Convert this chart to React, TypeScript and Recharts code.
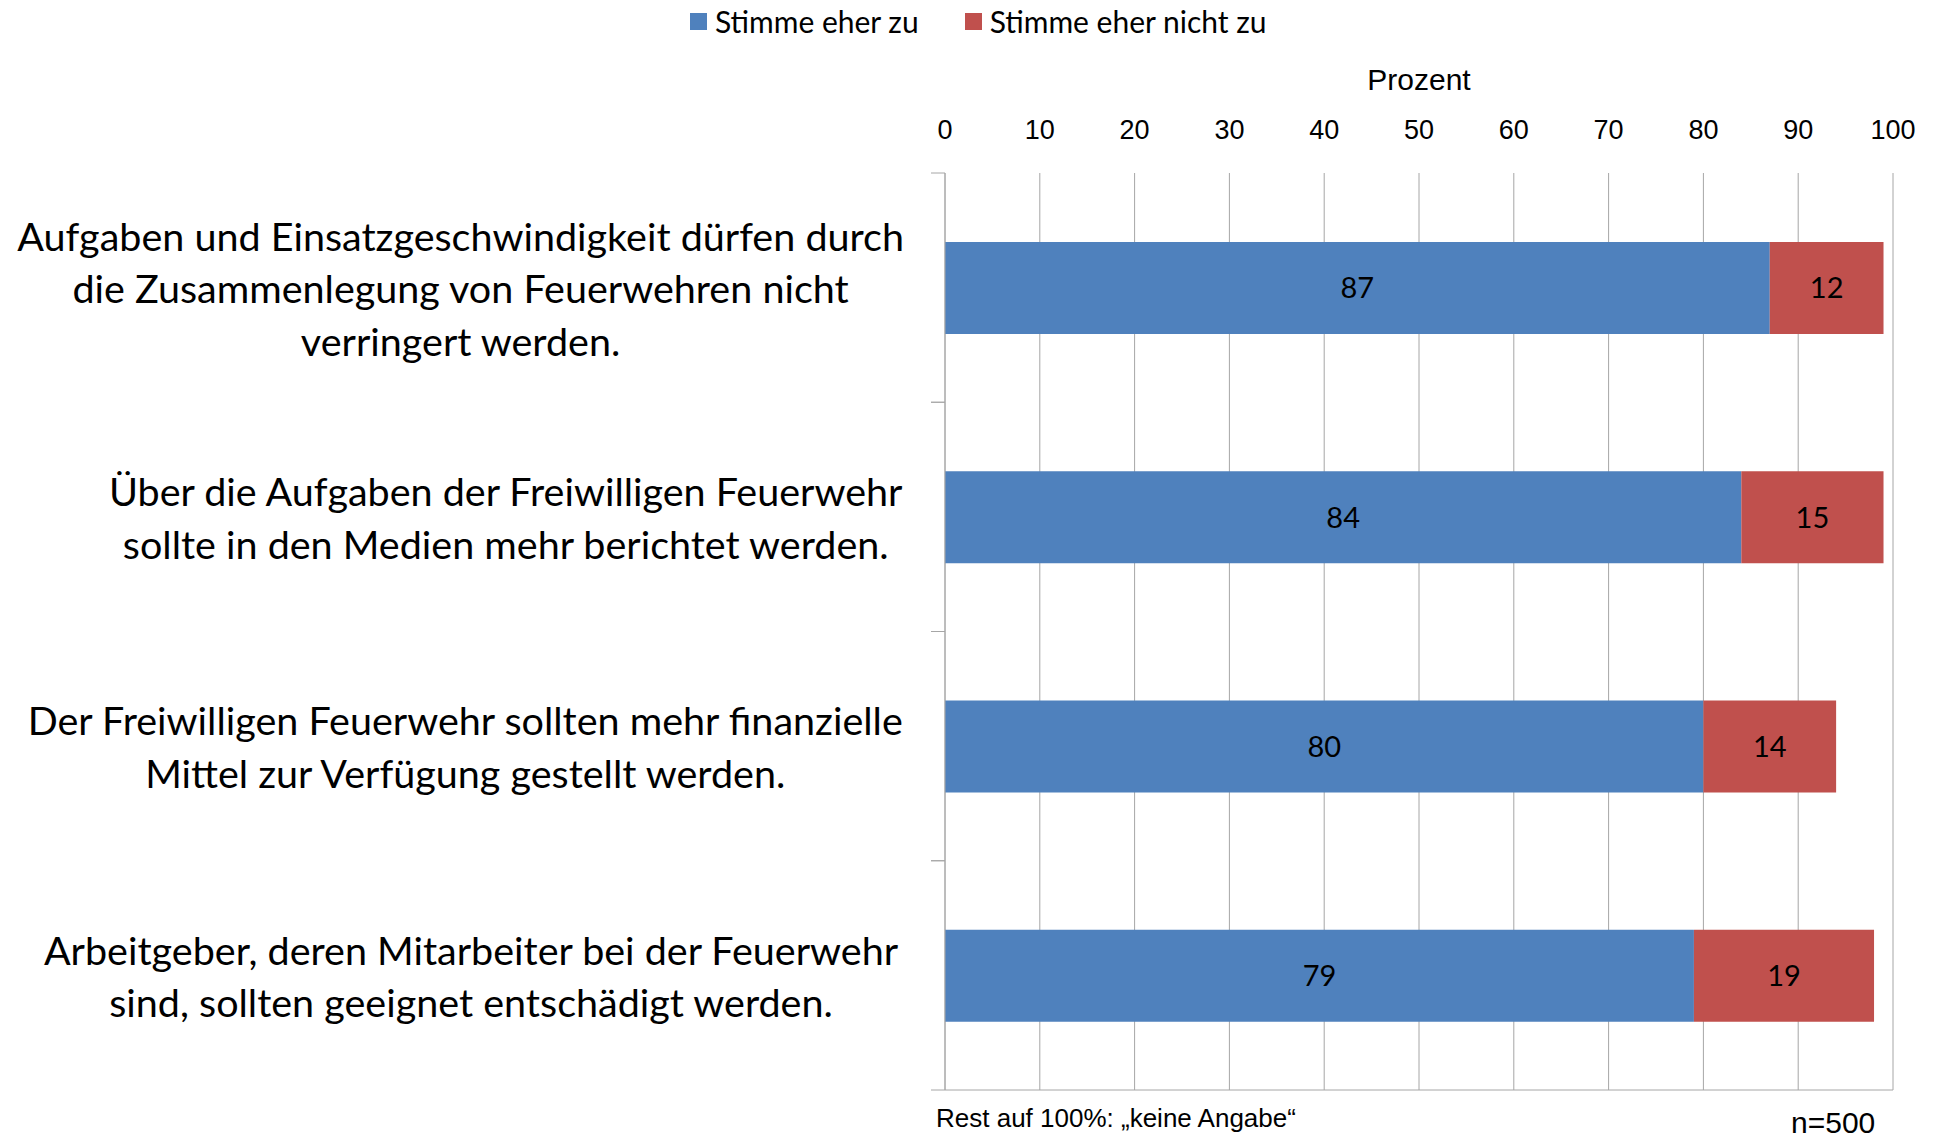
import React from 'react'
import {
  BarChart,
  Bar,
  XAxis,
  YAxis,
  CartesianGrid,
  Legend,
  LabelList,
} from 'recharts'

// statements, line breaks as in the original slide
const categories = [
  'Aufgaben und Einsatzgeschwindigkeit dürfen durch\ndie Zusammenlegung von Feuerwehren nicht\nverringert werden.',
  'Über die Aufgaben der Freiwilligen Feuerwehr\nsollte in den Medien mehr berichtet werden.',
  'Der Freiwilligen Feuerwehr sollten mehr finanzielle\nMittel zur Verfügung gestellt werden.',
  'Arbeitgeber, deren Mitarbeiter bei der Feuerwehr \nsind, sollten geeignet entschädigt werden.',
]
const stimmeZu = [87, 84, 80, 79]
const stimmeNichtZu = [12, 15, 14, 19]
const xTicks = [0, 10, 20, 30, 40, 50, 60, 70, 80, 90, 100]

const seriesNames = ['Stimme eher zu', 'Stimme eher nicht zu']
const BLUE = '#4F81BD'
const RED = '#C0504D'
const GRID = '#A6A6A6'

const W = 1941
const H = 1138
const MARGIN = { top: 63, right: 48, bottom: 40, left: 0 }
const TOP_AXIS_H = 110
const BOTTOM_AXIS_H = 8
const PLOT_H = H - MARGIN.top - MARGIN.bottom - TOP_AXIS_H - BOTTOM_AXIS_H
const BAND = PLOT_H / categories.length
const LABEL_GAP = 41
const LABEL_FONT = 39.5
const LABEL_LH = 52.6
const LABEL_FAMILY = 'Lato'

const data = categories.map((name, i) => ({
  name,
  zu: stimmeZu[i],
  nicht: stimmeNichtZu[i],
}))

let canvas: HTMLCanvasElement | null = null
function textWidth(s: string, font: string) {
  if (!canvas) canvas = document.createElement('canvas')
  const ctx = canvas.getContext('2d')!
  ctx.font = font
  return ctx.measureText(s).width
}

function CategoryTick(props: any) {
  const { x, y, payload } = props
  const lines: string[] = String(payload.value).split('\n')
  const font = `${LABEL_FONT}px ${LABEL_FAMILY}`
  const blockW = Math.max(...lines.map((l) => textWidth(l, font)))
  const cx = x - blockW / 2
  const first = y - ((lines.length - 1) * LABEL_LH) / 2
  const axisX = x + LABEL_GAP
  return (
    <g>
      {lines.map((l, i) => (
        <text
          key={i}
          x={cx}
          y={first + i * LABEL_LH}
          textAnchor="middle"
          dominantBaseline="central"
          fontSize={LABEL_FONT}
          fontFamily={LABEL_FAMILY}
          fill="#000"
        >
          {l}
        </text>
      ))}
      <line x1={axisX - 14} x2={axisX} y1={y - BAND / 2} y2={y - BAND / 2} stroke={GRID} />
      <line x1={axisX - 14} x2={axisX} y1={y + BAND / 2} y2={y + BAND / 2} stroke={GRID} />
    </g>
  )
}

function LegendContent(props: any) {
  const items = [...(props.payload || [])].sort(
    (a: any, b: any) => seriesNames.indexOf(a.value) - seriesNames.indexOf(b.value)
  )
  return (
    <div style={{ display: 'flex', gap: 46, marginLeft: 690, fontFamily: 'Lato', fontSize: 30, lineHeight: '36px' }}>
      {items.map((it: any) => (
        <div key={it.value} style={{ display: 'flex', alignItems: 'center' }}>
          <span style={{ width: 17, height: 17, background: it.color, marginRight: 8, display: 'inline-block' }} />
          <span style={{ color: '#000' }}>{it.value}</span>
        </div>
      ))}
    </div>
  )
}

export default function App() {
  return (
    <div style={{ position: 'absolute', left: 0, top: 0, width: W, height: H, background: '#fff' }}>
      <BarChart width={W} height={H} data={data} layout="vertical" margin={MARGIN}>
        <CartesianGrid horizontal={false} stroke={GRID} xAxisId="top" yAxisId="cat" />
        <XAxis
          xAxisId="top"
          orientation="top"
          type="number"
          domain={[0, 100]}
          ticks={xTicks}
          height={TOP_AXIS_H}
          axisLine={false}
          tickLine={false}
          tickSize={0}
          tickMargin={34}
          tick={{ fontSize: 27, fill: '#000', fontFamily: 'Liberation Sans' }}
          label={{ value: 'Prozent', position: 'insideTop', offset: 6, fontSize: 30, fill: '#000', fontFamily: 'Liberation Sans' }}
        />
        <XAxis
          xAxisId="bottom"
          orientation="bottom"
          type="number"
          domain={[0, 100]}
          ticks={xTicks}
          height={BOTTOM_AXIS_H}
          tick={false}
          tickSize={8}
          tickLine={{ stroke: GRID }}
          axisLine={{ stroke: GRID }}
        />
        <YAxis
          yAxisId="cat"
          type="category"
          dataKey="name"
          width={945}
          interval={0}
          axisLine={{ stroke: GRID }}
          tickLine={false}
          tickSize={0}
          tickMargin={LABEL_GAP}
          tick={<CategoryTick />}
        />
        <Legend
          layout="horizontal"
          verticalAlign="middle"
          wrapperStyle={{ top: 3, left: 0, width: W }}
          content={<LegendContent />}
        />
        <Bar
          dataKey="zu"
          name={seriesNames[0]}
          stackId="a"
          fill={BLUE}
          barSize={92}
          xAxisId="top"
          yAxisId="cat"
          isAnimationActive={false}
        >
          <LabelList dataKey="zu" position="center" fill="#000" fontSize={29} fontFamily="Lato" />
        </Bar>
        <Bar
          dataKey="nicht"
          name={seriesNames[1]}
          stackId="a"
          fill={RED}
          barSize={92}
          xAxisId="top"
          yAxisId="cat"
          isAnimationActive={false}
        >
          <LabelList dataKey="nicht" position="center" fill="#000" fontSize={29} fontFamily="Lato" />
        </Bar>
      </BarChart>
      <div style={{ position: 'absolute', left: 936, top: 1103, fontFamily: 'Liberation Sans', fontSize: 26, lineHeight: '30px' }}>
        Rest auf 100%: „keine Angabe“
      </div>
      <div style={{ position: 'absolute', left: 1791, top: 1106, fontFamily: 'Liberation Sans', fontSize: 30, lineHeight: '34px' }}>
        n=500
      </div>
    </div>
  )
}
